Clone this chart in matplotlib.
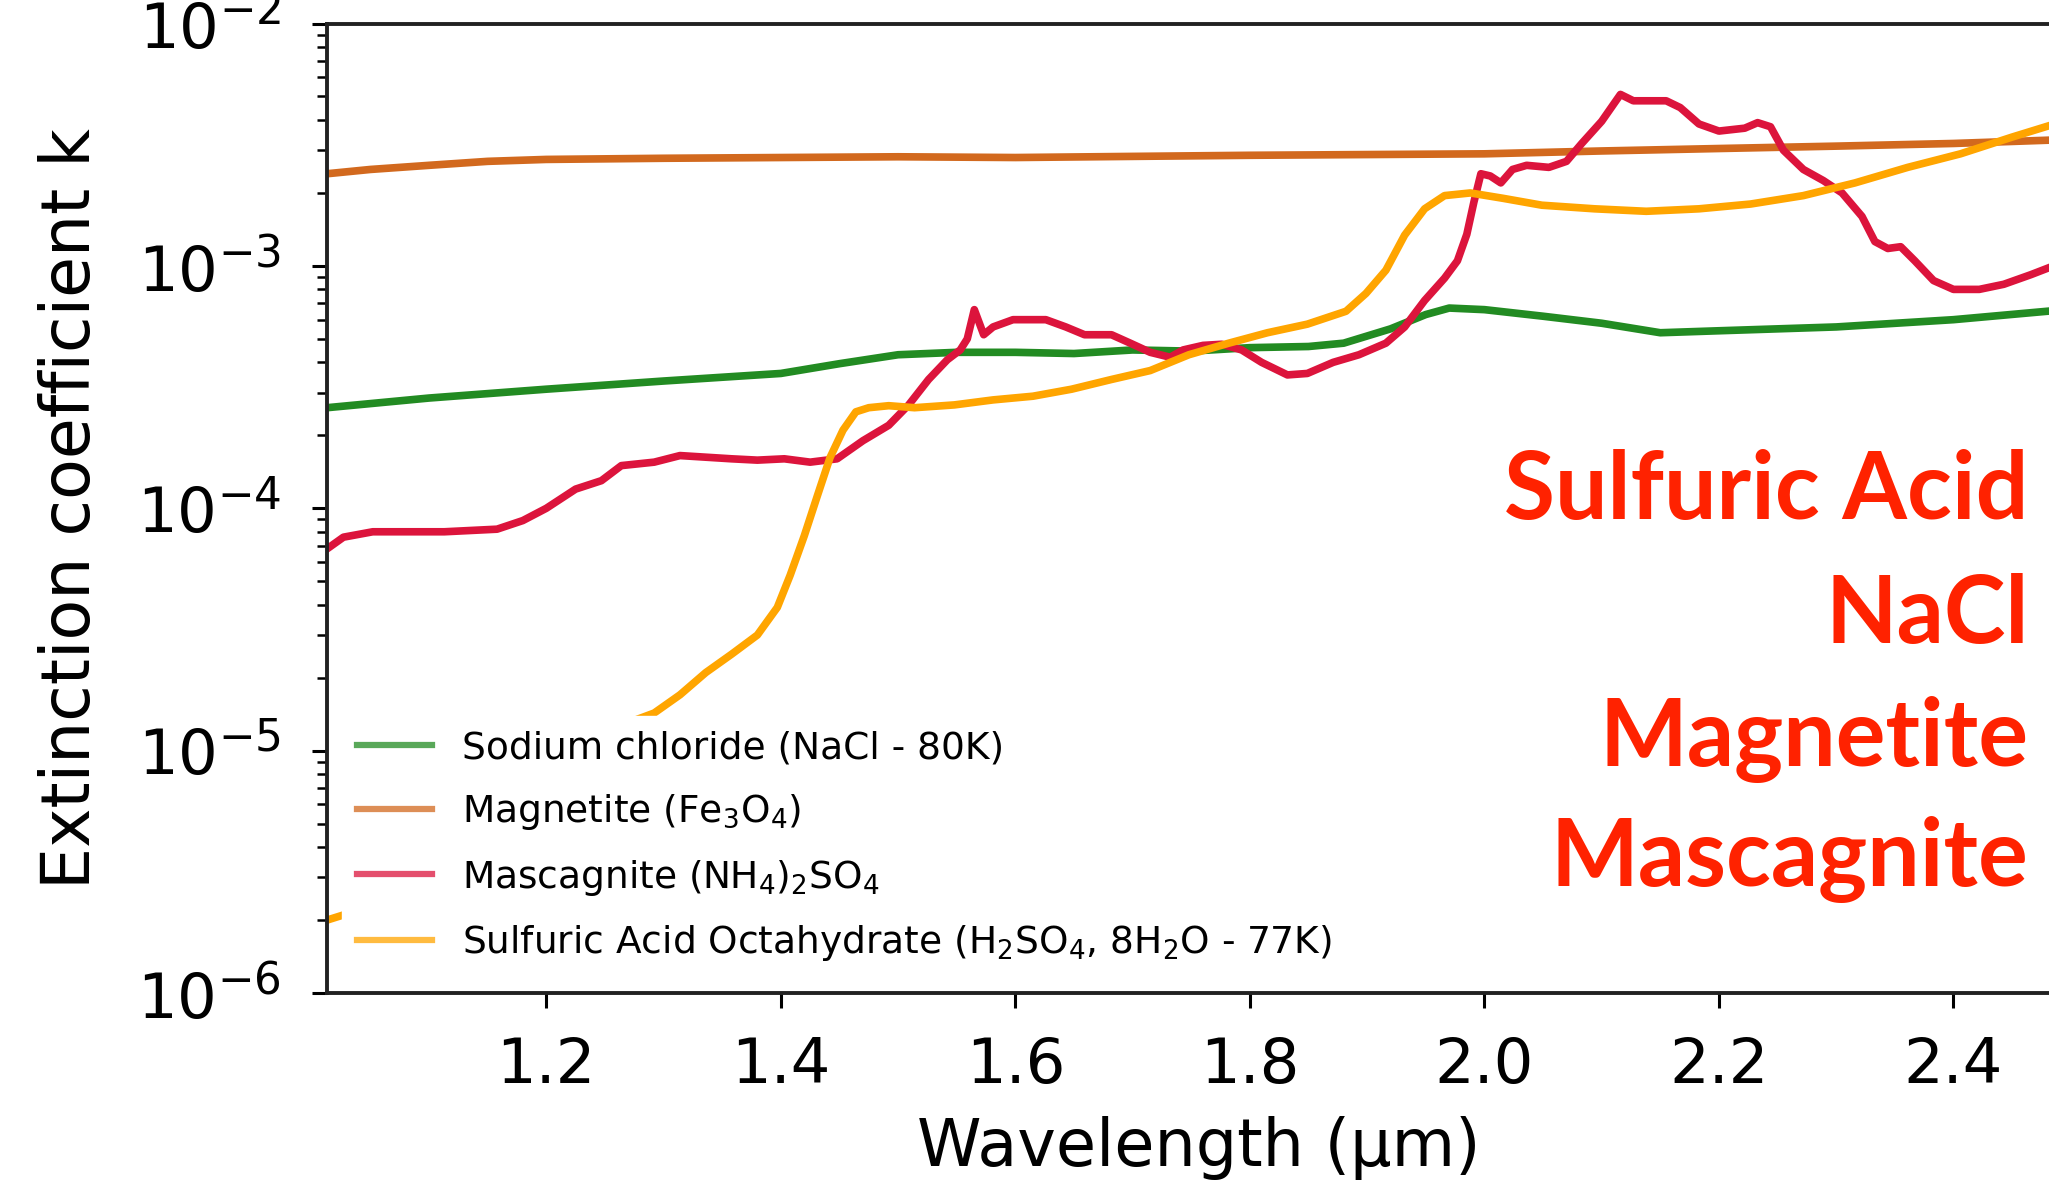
import numpy as np
import matplotlib
matplotlib.use("Agg")
import matplotlib.pyplot as plt

# wavelength grids (um) and extinction coefficient k for each material
wl_nacl = [1.013, 1.10, 1.20, 1.30, 1.40, 1.45, 1.50, 1.55, 1.60, 1.65, 1.70, 1.75,
           1.80, 1.85, 1.88, 1.92, 1.95, 1.97, 2.00, 2.05, 2.10, 2.15, 2.20, 2.30,
           2.40, 2.48]
k_nacl = [2.6e-4, 2.85e-4, 3.1e-4, 3.35e-4, 3.6e-4, 3.95e-4, 4.3e-4, 4.4e-4, 4.4e-4,
          4.35e-4, 4.5e-4, 4.45e-4, 4.6e-4, 4.65e-4, 4.8e-4, 5.5e-4, 6.3e-4, 6.7e-4,
          6.6e-4, 6.2e-4, 5.8e-4, 5.3e-4, 5.4e-4, 5.6e-4, 6.0e-4, 6.5e-4]

wl_mag = [1.013, 1.05, 1.10, 1.15, 1.20, 1.30, 1.40, 1.50, 1.60, 1.70, 1.80, 1.90,
          2.00, 2.10, 2.20, 2.30, 2.40, 2.48]
k_mag = [2.4e-3, 2.5e-3, 2.6e-3, 2.7e-3, 2.75e-3, 2.78e-3, 2.8e-3, 2.82e-3, 2.8e-3,
         2.83e-3, 2.86e-3, 2.88e-3, 2.9e-3, 2.98e-3, 3.05e-3, 3.12e-3, 3.2e-3, 3.3e-3]

wl_mas = [1.013, 1.027, 1.052, 1.113, 1.158, 1.18, 1.20, 1.225, 1.247, 1.264, 1.292,
          1.314, 1.358, 1.38, 1.403, 1.425, 1.448, 1.47, 1.492, 1.509, 1.526, 1.542,
          1.553, 1.559, 1.565, 1.573, 1.581, 1.598, 1.626, 1.643, 1.659, 1.682, 1.698,
          1.715, 1.732, 1.743, 1.76, 1.776, 1.793, 1.81, 1.832, 1.849, 1.871, 1.893,
          1.916, 1.932, 1.949, 1.966, 1.977, 1.985, 1.991, 1.997, 2.005, 2.014, 2.024,
          2.036, 2.055, 2.07, 2.083, 2.10, 2.116, 2.127, 2.138, 2.155, 2.167, 2.183,
          2.20, 2.222, 2.233, 2.244, 2.255, 2.272, 2.289, 2.305, 2.322, 2.333, 2.344,
          2.355, 2.367, 2.383, 2.40, 2.422, 2.443, 2.466, 2.49]
k_mas = [6.8e-5, 7.6e-5, 8.0e-5, 8.0e-5, 8.2e-5, 8.9e-5, 1.0e-4, 1.2e-4, 1.3e-4,
         1.5e-4, 1.55e-4, 1.65e-4, 1.6e-4, 1.58e-4, 1.6e-4, 1.55e-4, 1.6e-4, 1.9e-4,
         2.2e-4, 2.67e-4, 3.4e-4, 4.1e-4, 4.5e-4, 5.0e-4, 6.6e-4, 5.2e-4, 5.6e-4,
         6.0e-4, 6.0e-4, 5.6e-4, 5.2e-4, 5.2e-4, 4.8e-4, 4.4e-4, 4.2e-4, 4.5e-4,
         4.7e-4, 4.75e-4, 4.5e-4, 4.0e-4, 3.55e-4, 3.6e-4, 4.0e-4, 4.3e-4, 4.8e-4,
         5.6e-4, 7.2e-4, 8.9e-4, 1.05e-3, 1.35e-3, 1.83e-3, 2.4e-3, 2.35e-3, 2.2e-3,
         2.5e-3, 2.6e-3, 2.55e-3, 2.7e-3, 3.2e-3, 3.95e-3, 5.1e-3, 4.8e-3, 4.8e-3,
         4.8e-3, 4.5e-3, 3.85e-3, 3.6e-3, 3.7e-3, 3.9e-3, 3.75e-3, 3.0e-3, 2.5e-3,
         2.25e-3, 2.0e-3, 1.6e-3, 1.26e-3, 1.18e-3, 1.2e-3, 1.05e-3, 8.7e-4, 8.0e-4,
         8.0e-4, 8.4e-4, 9.2e-4, 1.02e-3]

wl_sao = [1.013, 1.027, 1.10, 1.20, 1.269, 1.292, 1.314, 1.336, 1.358, 1.38, 1.397,
          1.408, 1.42, 1.431, 1.442, 1.453, 1.464, 1.475, 1.492, 1.514, 1.548, 1.581,
          1.615, 1.648, 1.682, 1.715, 1.748, 1.782, 1.815, 1.849, 1.882, 1.899, 1.916,
          1.932, 1.949, 1.966, 1.988, 2.016, 2.049, 2.094, 2.138, 2.183, 2.227, 2.272,
          2.316, 2.361, 2.406, 2.45, 2.49]
k_sao = [2.0e-6, 2.1e-6, 4.0e-6, 8.0e-6, 1.3e-5, 1.43e-5, 1.7e-5, 2.1e-5, 2.5e-5,
         3.0e-5, 3.9e-5, 5.3e-5, 7.7e-5, 1.12e-4, 1.62e-4, 2.1e-4, 2.5e-4, 2.6e-4,
         2.65e-4, 2.6e-4, 2.67e-4, 2.8e-4, 2.9e-4, 3.1e-4, 3.4e-4, 3.7e-4, 4.3e-4,
         4.8e-4, 5.3e-4, 5.75e-4, 6.5e-4, 7.7e-4, 9.6e-4, 1.34e-3, 1.72e-3, 1.95e-3,
         2.0e-3, 1.9e-3, 1.78e-3, 1.72e-3, 1.68e-3, 1.72e-3, 1.8e-3, 1.95e-3, 2.2e-3,
         2.55e-3, 2.9e-3, 3.4e-3, 3.9e-3]

labels = ["Sodium chloride (NaCl - 80K)",
          "Magnetite (Fe$_3$O$_4$)",
          "Mascagnite (NH$_4$)$_2$SO$_4$",
          "Sulfuric Acid Octahydrate (H$_2$SO$_4$, 8H$_2$O - 77K)"]
colors = ["forestgreen", "chocolate", "crimson", "orange"]
tags = ["Sulfuric Acid", "NaCl", "Magnetite", "Mascagnite"]

fig = plt.figure(figsize=(20.49, 11.88), dpi=100)
ax = fig.add_axes([0.1596, 0.1641, 0.851, 0.8161])

series = [(wl_nacl, k_nacl), (wl_mag, k_mag), (wl_mas, k_mas), (wl_sao, k_sao)]
for (w, k), lab, c in zip(series, labels, colors):
    ax.plot(w, k, color=c, lw=5.5, label=lab, solid_joinstyle="round")

ax.set_yscale("log")
ax.set_ylim(1e-6, 1e-2)
ax.set_xlim(1.013, 2.5)
ax.set_xticks([1.2, 1.4, 1.6, 1.8, 2.0, 2.2, 2.4])

for s in ax.spines.values():
    s.set_linewidth(2.8)
    s.set_color("#222222")
ax.tick_params(which="major", length=11, width=2.2, labelsize=45)
ax.tick_params(axis="x", which="major", pad=20)
ax.tick_params(axis="y", which="major", pad=22)
ax.tick_params(which="minor", length=7, width=1.8)

ax.set_xlabel("Wavelength (\u00b5m)", fontsize=47, labelpad=14)
ax.set_ylabel("Extinction coefficient k", fontsize=48, labelpad=24)

leg = ax.legend(loc="lower left", fontsize=27, frameon=True, framealpha=1,
                edgecolor="white", handlelength=2.0, handletextpad=0.8,
                labelspacing=0.68, borderaxespad=0.4)
for h in leg.get_lines():
    h.set_alpha(0.75)
    h.set_linewidth(4.5)

tag_y = [0.563, 0.459, 0.355, 0.254]
for t, y in zip(tags, tag_y):
    fig.text(0.990, y, t, ha="right", va="baseline", color="#ff2200",
             fontsize=67, fontweight="bold", family=["Lato", "DejaVu Sans"])

fig.savefig("out.png", dpi=100)
